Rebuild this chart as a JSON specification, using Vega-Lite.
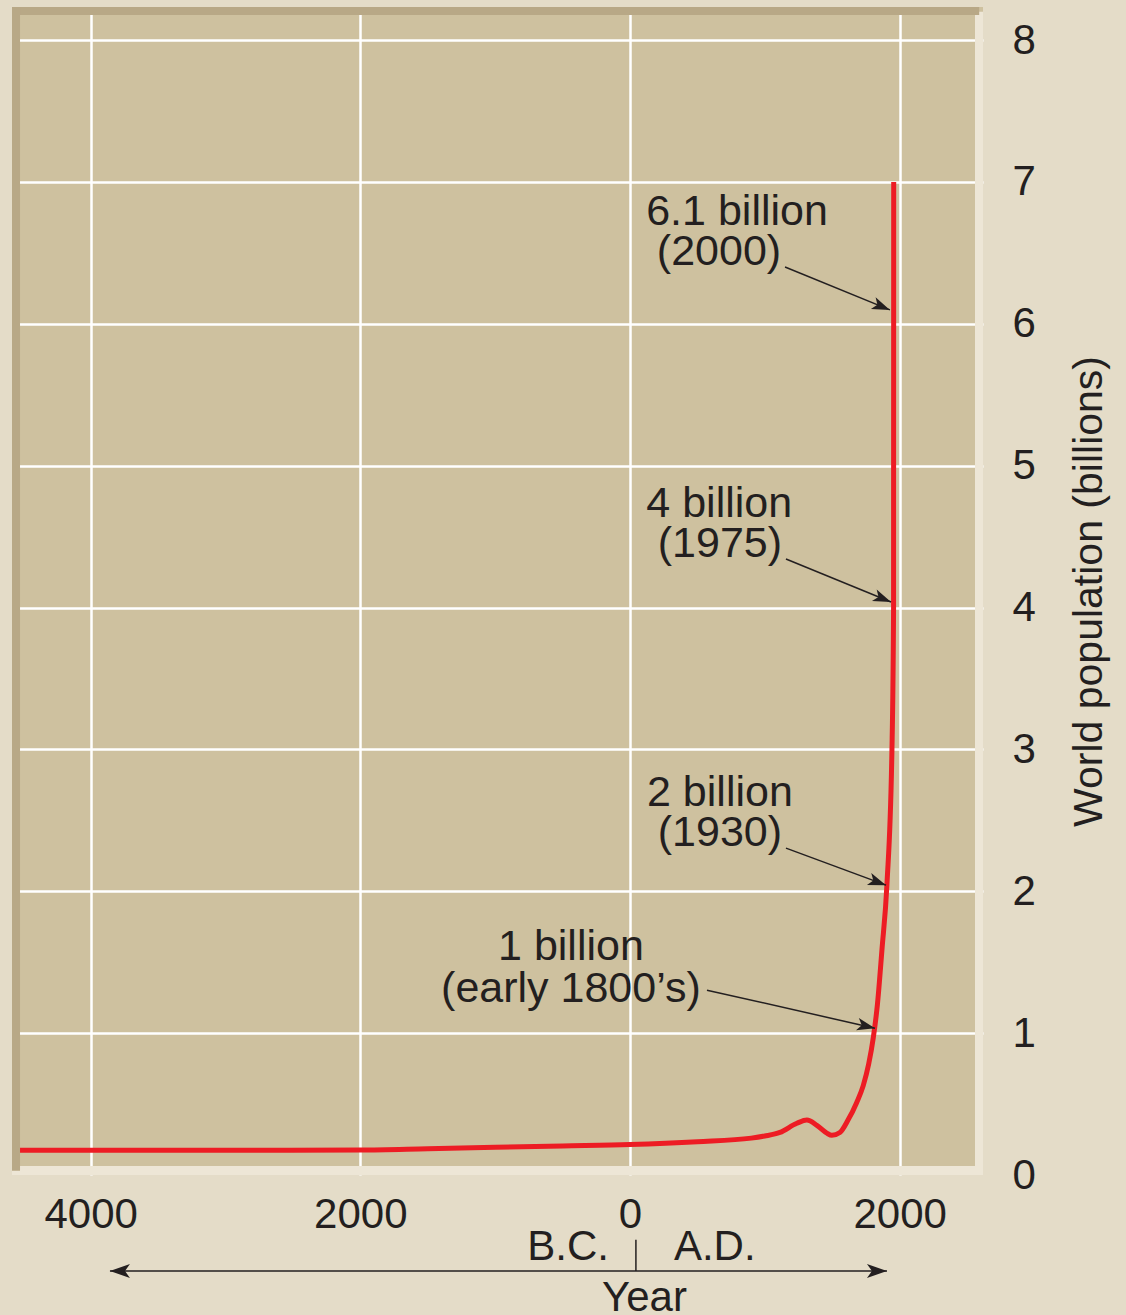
{
  "$schema": "https://vega.github.io/schema/vega-lite/v6.json",
  "width": 971,
  "height": 1168,
  "autosize": {"type": "none"},
  "padding": {"left": 12, "top": 7, "right": 143, "bottom": 140},
  "background": "#e4dcc8",
  "config": {
    "font": "Liberation Sans",
    "view": {"fill": "#cec19f", "stroke": null}
  },
  "datasets": {
    "curve": [
      {"year": -4524, "pop": 0.175},
      {"year": -3000, "pop": 0.175},
      {"year": -2000, "pop": 0.176},
      {"year": -1500, "pop": 0.185},
      {"year": -1000, "pop": 0.195},
      {"year": -500, "pop": 0.205},
      {"year": 0, "pop": 0.215},
      {"year": 500, "pop": 0.235},
      {"year": 900, "pop": 0.26},
      {"year": 1000, "pop": 0.275},
      {"year": 1112, "pop": 0.3},
      {"year": 1238, "pop": 0.365},
      {"year": 1312, "pop": 0.387},
      {"year": 1386, "pop": 0.35},
      {"year": 1460, "pop": 0.295},
      {"year": 1497, "pop": 0.28},
      {"year": 1557, "pop": 0.3},
      {"year": 1617, "pop": 0.387},
      {"year": 1681, "pop": 0.51},
      {"year": 1730, "pop": 0.63},
      {"year": 1770, "pop": 0.78},
      {"year": 1805, "pop": 0.97},
      {"year": 1835, "pop": 1.2},
      {"year": 1869, "pop": 1.59},
      {"year": 1906, "pop": 2.05},
      {"year": 1943, "pop": 3.0},
      {"year": 1955, "pop": 4.0},
      {"year": 1956, "pop": 7.0}
    ],
    "labels": [
      {"text": "6.1 billion", "year": 794, "pop": 6.696},
      {"text": "(2000)", "year": 660, "pop": 6.414},
      {"text": "4 billion", "year": 662, "pop": 4.637},
      {"text": "(1975)", "year": 667, "pop": 4.355},
      {"text": "2 billion", "year": 667, "pop": 2.601},
      {"text": "(1930)", "year": 667, "pop": 2.319},
      {"text": "1 billion", "year": -438, "pop": 1.515},
      {"text": "(early 1800’s)", "year": -438, "pop": 1.219}
    ],
    "arrows": [
      {"label": "6.1", "year": 1150, "pop": 6.4, "year2": 1928, "pop2": 6.098},
      {"label": "4", "year": 1157, "pop": 4.342, "year2": 1936, "pop2": 4.039},
      {"label": "2", "year": 1157, "pop": 2.304, "year2": 1899, "pop2": 2.043},
      {"label": "1", "year": 571, "pop": 1.303, "year2": 1817, "pop2": 1.035}
    ],
    "timeline": [
      {"part": "arrow", "year": -3857, "pop": -0.677, "year2": 1906, "pop2": -0.677},
      {"part": "divider", "year": 44, "pop": -0.456, "year2": 44, "pop2": -0.677}
    ],
    "timeheads": [
      {"dir": "left", "year": -3857, "pop": -0.677},
      {"dir": "right", "year": 1906, "pop": -0.677}
    ],
    "era": [
      {"text": "B.C.", "year": -156, "pop": -0.6},
      {"text": "A.D.", "year": 326, "pop": -0.6}
    ]
  },
  "layer": [
    {
      "data": {"name": "curve"},
      "mark": {"type": "line", "color": "#ed1c24", "strokeWidth": 5, "interpolate": "monotone", "strokeCap": "butt"},
      "encoding": {
        "x": {
          "field": "year", "type": "quantitative",
          "scale": {"domain": [-4583.5, 2618.3], "nice": false, "zero": false},
          "axis": {
            "orient": "bottom",
            "values": [-4000, -2000, 0, 2000],
            "labelExpr": "format(abs(datum.value), 'd')",
            "grid": true, "gridColor": "#ffffff", "gridWidth": 2.5, "gridOpacity": 1,
            "domain": false, "ticks": false, "tickSize": 0,
            "labelPadding": 19, "labelFontSize": 42, "labelColor": "#231f20", "labelFlush": false,
            "title": "Year", "titleFontSize": 42, "titleFontWeight": "normal", "titleColor": "#231f20",
            "titleX": 632, "titleY": 135, "titleBaseline": "alphabetic", "titleAlign": "center"
          }
        },
        "y": {
          "field": "pop", "type": "quantitative",
          "scale": {"domain": [0, 8.233], "nice": false, "zero": false},
          "axis": {
            "orient": "right",
            "values": [0, 1, 2, 3, 4, 5, 6, 7, 8],
            "format": "d",
            "grid": true, "gridColor": "#ffffff", "gridWidth": 2.5,
            "gridOpacity": {"condition": {"test": "datum.value === 0", "value": 0}, "value": 1},
            "domain": false, "ticks": false, "tickSize": 0,
            "labelPadding": 29, "labelFontSize": 42, "labelColor": "#231f20", "labelFlush": false,
            "title": "World population (billions)", "titleFontSize": 41, "titleFontWeight": "normal", "titleColor": "#231f20",
            "titleAngle": 270, "titleBaseline": "top", "titlePadding": 34
          }
        }
      }
    },
    {
      "data": {"values": [{}]},
      "mark": {"type": "rect", "color": "#ede6d6"},
      "encoding": {
        "x": {"datum": -4583.5, "type": "quantitative"},
        "x2": {"datum": 2618.3},
        "y": {"datum": 0, "type": "quantitative"},
        "y2": {"datum": 0.063}
      }
    },
    {
      "data": {"values": [{}]},
      "mark": {"type": "rect", "color": "#ede6d6"},
      "encoding": {
        "x": {"datum": 2559, "type": "quantitative"},
        "x2": {"datum": 2618.3},
        "y": {"datum": 0, "type": "quantitative"},
        "y2": {"datum": 8.2}
      }
    },
    {
      "data": {"values": [{}]},
      "mark": {"type": "rect", "color": "#b8a886"},
      "encoding": {
        "x": {"datum": -4583.5, "type": "quantitative"},
        "x2": {"datum": 2590},
        "y": {"datum": 8.176, "type": "quantitative"},
        "y2": {"datum": 8.233}
      }
    },
    {
      "data": {"values": [{}]},
      "mark": {"type": "rect", "color": "#b8a886"},
      "encoding": {
        "x": {"datum": -4583.5, "type": "quantitative"},
        "x2": {"datum": -4524},
        "y": {"datum": 0.03, "type": "quantitative"},
        "y2": {"datum": 8.233}
      }
    },
    {
      "data": {"name": "arrows"},
      "mark": {"type": "rule", "color": "#231f20", "strokeWidth": 1.5},
      "encoding": {
        "x": {"field": "year", "type": "quantitative"},
        "y": {"field": "pop", "type": "quantitative"},
        "x2": {"field": "year2"},
        "y2": {"field": "pop2"}
      }
    },
    {
      "data": {"name": "arrows"},
      "transform": [{"filter": "datum.label === '6.1' || datum.label === '4'"}],
      "mark": {"type": "point", "shape": "M0,0L-2,-0.7L-1.5,0L-2,0.7Z", "size": 324, "filled": true, "color": "#231f20", "opacity": 1, "strokeWidth": 0, "angle": 22},
      "encoding": {
        "x": {"field": "year2", "type": "quantitative"},
        "y": {"field": "pop2", "type": "quantitative"}
      }
    },
    {
      "data": {"name": "arrows"},
      "transform": [{"filter": "datum.label === '2'"}],
      "mark": {"type": "point", "shape": "M0,0L-2,-0.7L-1.5,0L-2,0.7Z", "size": 324, "filled": true, "color": "#231f20", "opacity": 1, "strokeWidth": 0, "angle": 20},
      "encoding": {
        "x": {"field": "year2", "type": "quantitative"},
        "y": {"field": "pop2", "type": "quantitative"}
      }
    },
    {
      "data": {"name": "arrows"},
      "transform": [{"filter": "datum.label === '1'"}],
      "mark": {"type": "point", "shape": "M0,0L-2,-0.7L-1.5,0L-2,0.7Z", "size": 324, "filled": true, "color": "#231f20", "opacity": 1, "strokeWidth": 0, "angle": 13},
      "encoding": {
        "x": {"field": "year2", "type": "quantitative"},
        "y": {"field": "pop2", "type": "quantitative"}
      }
    },
    {
      "data": {"name": "labels"},
      "mark": {"type": "text", "fontSize": 43, "color": "#231f20", "align": "center", "baseline": "alphabetic"},
      "encoding": {
        "x": {"field": "year", "type": "quantitative"},
        "y": {"field": "pop", "type": "quantitative"},
        "text": {"field": "text"}
      }
    },
    {
      "data": {"name": "timeline"},
      "mark": {"type": "rule", "color": "#231f20", "strokeWidth": 1.5},
      "encoding": {
        "x": {"field": "year", "type": "quantitative"},
        "y": {"field": "pop", "type": "quantitative"},
        "x2": {"field": "year2"},
        "y2": {"field": "pop2"}
      }
    },
    {
      "data": {"name": "timeheads"},
      "transform": [{"filter": "datum.dir === 'left'"}],
      "mark": {"type": "point", "shape": "M0,0L-2,-0.7L-1.5,0L-2,0.7Z", "size": 400, "filled": true, "color": "#231f20", "opacity": 1, "strokeWidth": 0, "angle": 180},
      "encoding": {
        "x": {"field": "year", "type": "quantitative"},
        "y": {"field": "pop", "type": "quantitative"}
      }
    },
    {
      "data": {"name": "timeheads"},
      "transform": [{"filter": "datum.dir === 'right'"}],
      "mark": {"type": "point", "shape": "M0,0L-2,-0.7L-1.5,0L-2,0.7Z", "size": 400, "filled": true, "color": "#231f20", "opacity": 1, "strokeWidth": 0, "angle": 0},
      "encoding": {
        "x": {"field": "year", "type": "quantitative"},
        "y": {"field": "pop", "type": "quantitative"}
      }
    },
    {
      "data": {"name": "era"},
      "transform": [{"filter": "datum.text === 'B.C.'"}],
      "mark": {"type": "text", "fontSize": 42, "color": "#231f20", "align": "right", "baseline": "alphabetic"},
      "encoding": {
        "x": {"field": "year", "type": "quantitative"},
        "y": {"field": "pop", "type": "quantitative"},
        "text": {"field": "text"}
      }
    },
    {
      "data": {"name": "era"},
      "transform": [{"filter": "datum.text === 'A.D.'"}],
      "mark": {"type": "text", "fontSize": 42, "color": "#231f20", "align": "left", "baseline": "alphabetic"},
      "encoding": {
        "x": {"field": "year", "type": "quantitative"},
        "y": {"field": "pop", "type": "quantitative"},
        "text": {"field": "text"}
      }
    }
  ]
}
